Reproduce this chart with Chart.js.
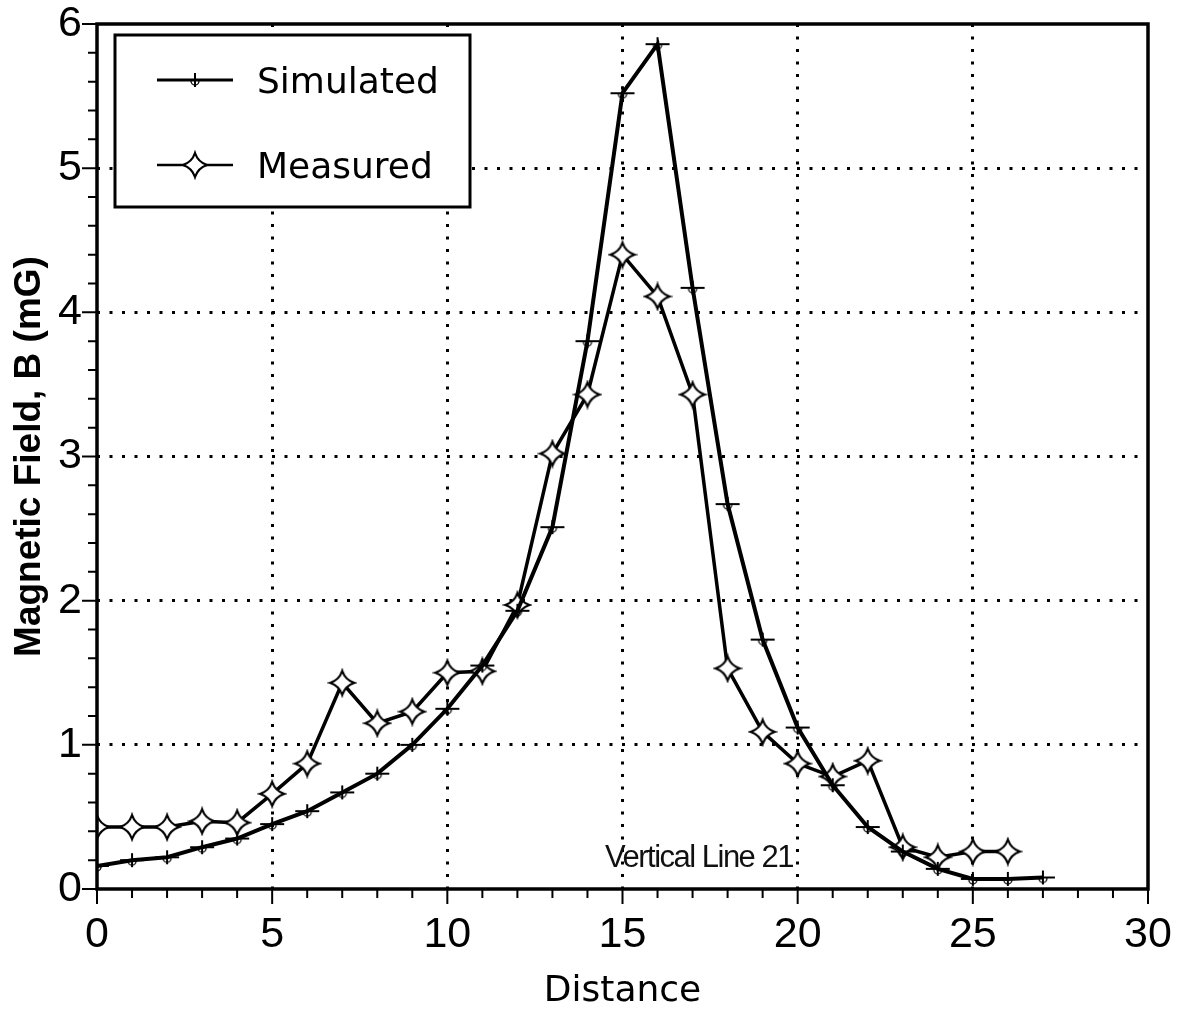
<!DOCTYPE html>
<html lang="en">
<head>
    <meta charset="UTF-8">
    <title>Magnetic Field - Vertical Line 21</title>
    <script src="https://cdn.jsdelivr.net/npm/chart.js@4.4.1/dist/chart.umd.min.js"></script>
    <style>
        body { margin: 0; background: #fff; }
    </style>
</head>
<body>
    <canvas id="fieldChart" width="1186" height="1016"></canvas>

    <script>
        // Distance along the line, and field values (mG) at each station
        const distance = [0, 1, 2, 3, 4, 5, 6, 7, 8, 9, 10, 11, 12, 13, 14, 15, 16, 17, 18, 19, 20, 21, 22, 23, 24, 25, 26, 27];
        const simulated = [0.16, 0.20, 0.22, 0.29, 0.35, 0.45, 0.54, 0.67, 0.80, 1.00, 1.25, 1.55, 1.93, 2.51, 3.80, 5.52, 5.86, 4.17, 2.67, 1.73, 1.12, 0.72, 0.43, 0.26, 0.14, 0.07, 0.07, 0.08];
        const measured = [0.43, 0.43, 0.43, 0.47, 0.46, 0.66, 0.87, 1.43, 1.15, 1.23, 1.50, 1.51, 1.97, 3.02, 3.43, 4.40, 4.11, 3.43, 1.53, 1.09, 0.87, 0.78, 0.89, 0.29, 0.22, 0.26, 0.26];

        // Labelled ticks
        const xTickLabels = [0, 5, 10, 15, 20, 25, 30];
        const yTickLabels = [0, 1, 2, 3, 4, 5, 6];

        const noteText = 'Vertical Line 21';
        const noteAt = {x: 14.5, y: 0.15};

        const textFont = '"DejaVu Sans", sans-serif';
        const numFont = '"Liberation Sans", Arial, sans-serif';

        // ***************
        // Marker images
        // ***************
        function plusMarker() {
            const c = document.createElement('canvas');
            c.width = 28; c.height = 20;
            const g = c.getContext('2d');
            g.strokeStyle = '#000';
            g.lineWidth = 2;
            g.beginPath();
            g.moveTo(2, 10); g.lineTo(26, 10);
            g.moveTo(14, 3); g.lineTo(14, 17);
            g.stroke();
            g.lineWidth = 1.3;
            g.beginPath();
            g.arc(14, 11, 4, 0, Math.PI);
            g.stroke();
            return c;
        }

        function starMarker() {
            const c = document.createElement('canvas');
            c.width = 30; c.height = 30;
            const g = c.getContext('2d');
            const m = 15, r = 12, k = 3;
            g.beginPath();
            g.moveTo(m, m - r);
            g.quadraticCurveTo(m + k, m - k, m + r, m);
            g.quadraticCurveTo(m + k, m + k, m, m + r);
            g.quadraticCurveTo(m - k, m + k, m - r, m);
            g.quadraticCurveTo(m - k, m - k, m, m - r);
            g.closePath();
            g.fillStyle = '#fff';
            g.fill();
            g.lineWidth = 2.2;
            g.strokeStyle = '#000';
            g.stroke();
            return c;
        }

        function toPoints(xs, ys) {
            return ys.map((v, i) => ({x: xs[i], y: v}));
        }

        function isWhole(v) {
            return Math.abs(v - Math.round(v)) < 1e-6;
        }

        // Fixed axis box sizes, no extra room for overhanging labels
        function fixSize(scale, size) {
            if (scale.isHorizontal()) { scale.height = size; } else { scale.width = size; }
            scale.paddingTop = 0;
            scale.paddingBottom = 0;
            scale.paddingLeft = 0;
            scale.paddingRight = 0;
        }

        // ***************
        // Plugins
        // ***************

        // Frame, minor/major tick marks and the text note
        const frameTicks = {
            id: 'frameTicks',
            afterDatasetsDraw(chart) {
                const ctx = chart.ctx;
                const a = chart.chartArea;
                const xs = chart.scales.x, ys = chart.scales.y;
                ctx.save();
                ctx.strokeStyle = '#000';
                ctx.lineWidth = 2;
                ctx.beginPath();
                for (let v = xs.min; v <= xs.max; v++) {
                    const px = xs.getPixelForValue(v);
                    const len = v % 5 === 0 ? 15 : 9;
                    ctx.moveTo(px, a.bottom);
                    ctx.lineTo(px, a.bottom + len);
                }
                for (let i = 0; i <= 30; i++) {
                    const py = ys.getPixelForValue(i / 5);
                    const len = i % 5 === 0 ? 15 : 9;
                    ctx.moveTo(a.left - len, py);
                    ctx.lineTo(a.left, py);
                }
                ctx.stroke();

                // plot frame
                ctx.lineWidth = 3.5;
                ctx.strokeRect(a.left, a.top, a.right - a.left, a.bottom - a.top);

                // note
                ctx.fillStyle = '#111';
                ctx.font = '31px "Liberation Sans", Arial, sans-serif';
                ctx.letterSpacing = '-1.5px';
                ctx.textAlign = 'left';
                ctx.textBaseline = 'alphabetic';
                ctx.fillText(noteText, xs.getPixelForValue(noteAt.x), ys.getPixelForValue(noteAt.y));
                ctx.restore();
            }
        };

        // Boxed legend in the upper left of the plot
        const boxLegend = {
            id: 'boxLegend',
            afterDraw(chart) {
                const ctx = chart.ctx;
                const a = chart.chartArea;
                const left = a.left + 18, top = a.top + 11, w = 355, h = 172;
                ctx.save();
                ctx.fillStyle = '#fff';
                ctx.fillRect(left, top, w, h);
                ctx.lineWidth = 3;
                ctx.strokeStyle = '#000';
                ctx.strokeRect(left, top, w, h);

                chart.data.datasets.forEach((ds, i) => {
                    const y = top + 45 + i * 85;
                    ctx.lineWidth = ds.borderWidth - 1;
                    ctx.beginPath();
                    ctx.moveTo(left + 42, y);
                    ctx.lineTo(left + 118, y);
                    ctx.stroke();
                    const img = ds.pointStyle;
                    ctx.drawImage(img, left + 80 - img.width / 2, y - img.height / 2);
                    ctx.fillStyle = '#000';
                    ctx.font = '36px ' + textFont;
                    ctx.textBaseline = 'alphabetic';
                    ctx.fillText(ds.label, left + 142, y + 13);
                });
                ctx.restore();
            }
        };

        // ***************
        // Build chart
        // ***************
        const dotted = [3, 9.5];

        new Chart(document.getElementById('fieldChart'), {
            type: 'line',
            data: {
                datasets: [
                    {
                        label: 'Simulated',
                        data: toPoints(distance, simulated),
                        borderColor: '#000',
                        borderWidth: 4,
                        pointStyle: plusMarker(),
                        tension: 0
                    },
                    {
                        label: 'Measured',
                        data: toPoints(distance, measured),
                        borderColor: '#000',
                        borderWidth: 3.5,
                        pointStyle: starMarker(),
                        tension: 0
                    }
                ]
            },
            options: {
                responsive: false,
                animation: false,
                devicePixelRatio: 1,
                layout: { autoPadding: false, padding: { top: 24, right: 38, left: 0, bottom: 0 } },
                plugins: {
                    legend: { display: false },
                    tooltip: { enabled: false }
                },
                scales: {
                    x: {
                        type: 'linear',
                        min: 0,
                        max: 30,
                        afterFit: scale => fixSize(scale, 127),
                        ticks: {
                            stepSize: 1,
                            autoSkip: false,
                            maxRotation: 0,
                            padding: 20,
                            color: '#000',
                            font: { family: numFont, size: 43 },
                            callback: v => xTickLabels.includes(v) ? v : ''
                        },
                        grid: {
                            drawTicks: false,
                            lineWidth: 3,
                            color: c => (c.tick && c.tick.value % 5 === 0 && c.tick.value > 0 && c.tick.value < 30) ? '#000' : 'rgba(0,0,0,0)'
                        },
                        border: { display: false, dash: dotted },
                        title: {
                            display: true,
                            text: 'Distance',
                            color: '#000',
                            font: { family: textFont, size: 36 },
                            padding: { top: 0, bottom: 3 }
                        }
                    },
                    y: {
                        min: 0,
                        max: 6,
                        afterFit: scale => fixSize(scale, 97),
                        ticks: {
                            stepSize: 0.2,
                            autoSkip: false,
                            padding: 15,
                            color: '#000',
                            font: { family: numFont, size: 43 },
                            callback: v => (isWhole(v) && yTickLabels.includes(Math.round(v))) ? Math.round(v) : ''
                        },
                        grid: {
                            drawTicks: false,
                            lineWidth: 3,
                            color: c => (c.tick && isWhole(c.tick.value) && c.tick.value > 0.5 && c.tick.value < 5.5) ? '#000' : 'rgba(0,0,0,0)'
                        },
                        border: { display: false, dash: dotted },
                        title: {
                            display: true,
                            text: 'Magnetic Field, B (mG)',
                            color: '#000',
                            font: { family: numFont, size: 37, weight: 'bold' },
                            padding: { top: 8, bottom: 0 }
                        }
                    }
                }
            },
            plugins: [frameTicks, boxLegend]
        });
    </script>
</body>
</html>
